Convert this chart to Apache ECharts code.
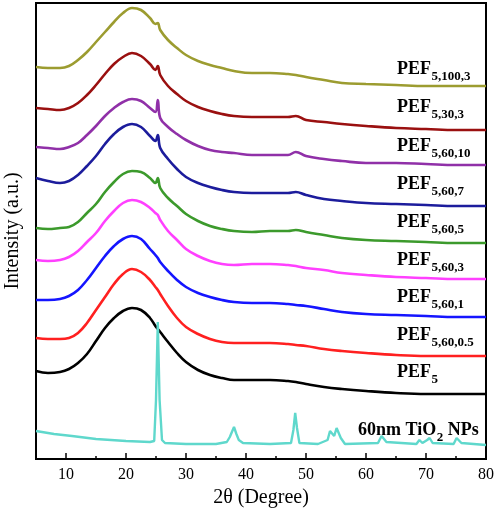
<!DOCTYPE html>
<html><head><meta charset="utf-8">
<script src="https://cdn.jsdelivr.net/npm/echarts@6/dist/echarts.min.js"></script>
<style>html,body{margin:0;padding:0;background:#fff}#c{width:496px;height:518px}</style>
</head><body><div id="c"></div>
<script>
// 2θ positions (degrees) shared by the PEF curves
const deg = [5, 7, 9, 10.5, 12, 13.5, 15, 16.5, 18, 19.5, 21, 22.5, 24, 24.9, 25.3, 25.7, 27, 28.5, 30, 32, 34, 36, 38, 41, 44, 47, 48.3, 50, 53, 56, 60, 65, 70, 75, 80];
// stacked intensities (a.u., vertical offsets included)
const pef5        = [88,86,87,90,96,105,118,131,141,148,151,149,141,133,130,127,117,106,97,89,84,81,79,79,79,78,77,75,72,70,68,66,65,65,65];
const pef5_60_05  = [121,120,120,121,126,136,149,162,175,185,190,187,179,172,169,165,153,141,132,125,120,117,116,116,116,115,114,113,110,108,106,104,103,103,103];
const pef5_60_1   = [159,159,160,163,169,179,191,203,213,220,223,220,210,204,201,197,188,179,172,166,162,159,157,156,156,155,154,153,150,147,145,144,143,142,142];
const pef5_60_3   = [199,198,199,202,208,217,226,238,248,256,259,257,251,246,244,239,228,219,210,203,198,195,194,195,195,194,193,191,189,186,184,182,181,180,180];
const pef5_60_5   = [231,230,231,232,237,246,255,267,277,285,288,287,281,276,281,271,261,253,245,238,233,230,228,227,228,228,229,227,224,221,219,218,217,216,216];
const pef5_60_7   = [281,278,276,278,284,293,303,315,325,332,335,332,323,318,324,311,300,290,282,276,272,269,267,266,266,266,267,264,260,258,256,255,254,253,253];
const pef5_60_10  = [312,311,310,312,316,324,333,343,351,357,360,358,351,347,359,341,332,325,319,313,309,307,306,304,304,304,307,303,300,298,296,296,295,294,294];
const pef5_30_3   = [351,350,349,351,356,364,374,385,395,402,406,403,395,389,393,384,373,365,358,352,348,345,343,342,342,342,343,339,337,335,333,331,330,329,329];
const pef5_100_3  = [392,391,391,393,399,407,417,427,437,446,451,449,441,435,436,429,419,411,404,398,394,391,388,386,386,385,384,382,379,376,375,374,373,373,373];
// TiO2 nanoparticles pattern
const tioDeg = [5,8,11,15,20,24,24.7,25.0,25.3,25.6,26.0,26.5,30,35,36.8,37.3,37.6,38.0,38.4,38.8,39.5,44,47.5,47.9,48.2,48.5,48.9,52,53.6,54.0,54.3,54.7,55.1,55.4,55.8,56.5,62.0,62.6,62.9,63.4,68.4,68.9,69.4,70.2,70.6,71.1,74.6,75.1,75.4,75.9,80];
const tio2   = [28,25,23,20,18,17,18,59,137,59,19,16,15,15,17,22,24,32,25,19,16,15,16,29,46,31,16,15,19,28,29,23,31,32,21,15,16,23,24,17,15,19,16,19,21,16,15,21,22,16,14];
// tick labels
const xTicks = [10, 20, 30, 40, 50, 60, 70, 80];
const xMinor = [15, 25, 35, 45, 55, 65, 75];
// curve labels (subscripts)
const subs = ['5,100,3', '5,30,3', '5,60,10', '5,60,7', '5,60,5', '5,60,3', '5,60,1', '5,60,0.5', '5'];

const FONT = '"Liberation Serif", "Times New Roman", serif';
const series = [
  {name: 'PEF5,100,3', d: pef5_100_3, c: '#9c9c30'},
  {name: 'PEF5,30,3', d: pef5_30_3, c: '#9a1010'},
  {name: 'PEF5,60,10', d: pef5_60_10, c: '#9030a8'},
  {name: 'PEF5,60,7', d: pef5_60_7, c: '#1c1c9c'},
  {name: 'PEF5,60,5', d: pef5_60_5, c: '#3c9a2c'},
  {name: 'PEF5,60,3', d: pef5_60_3, c: '#ff40ff'},
  {name: 'PEF5,60,1', d: pef5_60_1, c: '#1515ff'},
  {name: 'PEF5,60,0.5', d: pef5_60_05, c: '#ff2020'},
  {name: 'PEF5', d: pef5, c: '#000000'}
].map(s => ({
  type: 'line', name: s.name, showSymbol: false, smooth: 0.4,
  data: deg.map((x, i) => [x, s.d[i]]),
  lineStyle: {color: s.c, width: 2.6}, itemStyle: {color: s.c}, silent: true
}));
series.push({
  type: 'line', name: 'TiO2', showSymbol: false, smooth: false,
  data: tioDeg.map((x, i) => [x, tio2[i]]),
  lineStyle: {color: '#5fd8cc', width: 2.4}, itemStyle: {color: '#5fd8cc'}, silent: true, z: 5
});

// labels
const cv = document.createElement('canvas').getContext('2d');
function w(t, f) { cv.font = f; return cv.measureText(t).width; }
const bigF = 'bold 18px ' + FONT, subF = 'bold 13px ' + FONT;
const baselines = [75, 113, 152, 190, 228, 266, 303, 341, 378];
const graphic = [];
function txt(t, x, base, size, sub) {
  graphic.push({type: 'text', x: x, y: base - 0.3375 * size + (sub ? 6 : 0), silent: true,
    style: {text: t, font: 'bold ' + size + 'px ' + FONT, fill: '#000', textAlign: 'left', verticalAlign: 'middle', textVerticalAlign: 'middle'}});
}
subs.forEach((s, i) => {
  const x0 = 397;
  txt('PEF', x0, baselines[i], 18, false);
  txt(s, x0 + w('PEF', bigF) + 0.5, baselines[i], 13, true);
});
(function () {
  const x0 = 358, b = 436;
  txt('60nm TiO', x0, b, 18, false);
  const x1 = x0 + w('60nm TiO', bigF) + 0.5;
  txt('2', x1, b, 13, true);
  txt(' NPs', x1 + w('2', subF), b, 18, false);
})();

const chart = echarts.init(document.getElementById('c'), null, {renderer: 'canvas'});
chart.setOption({
  animation: false,
  backgroundColor: '#fff',
  grid: {left: 36, right: 10, top: 3, bottom: 59, containLabel: false, outerBoundsMode: 'none',
    show: true, borderColor: '#000', borderWidth: 2, backgroundColor: 'transparent'},
  xAxis: [{
    type: 'value', min: 5, max: 80, position: 'bottom',
    name: '2θ (Degree)', nameLocation: 'middle', nameGap: 29,
    nameTextStyle: {fontFamily: FONT, fontSize: 20, color: '#000'},
    axisLine: {show: false}, splitLine: {show: false},
    axisTick: {show: true, inside: true, length: 6, customValues: xTicks, lineStyle: {color: '#000', width: 1.5}},
    axisLabel: {show: true, customValues: xTicks, margin: 8, fontFamily: FONT, fontSize: 16, color: '#000'}
  }, {
    type: 'value', min: 5, max: 80, position: 'bottom', offset: 0,
    axisLine: {show: false}, splitLine: {show: false}, axisLabel: {show: false},
    axisTick: {show: true, inside: true, length: 3, customValues: xMinor, lineStyle: {color: '#000', width: 1.5}}
  }],
  yAxis: {
    type: 'value', min: 0, max: 456,
    name: 'Intensity (a.u.)', nameLocation: 'middle', nameGap: 13, nameRotate: 90,
    nameTextStyle: {fontFamily: FONT, fontSize: 20, color: '#000'},
    axisLine: {show: false}, axisTick: {show: false}, axisLabel: {show: false}, splitLine: {show: false}
  },
  series: series,
  graphic: graphic
});
</script></body></html>
